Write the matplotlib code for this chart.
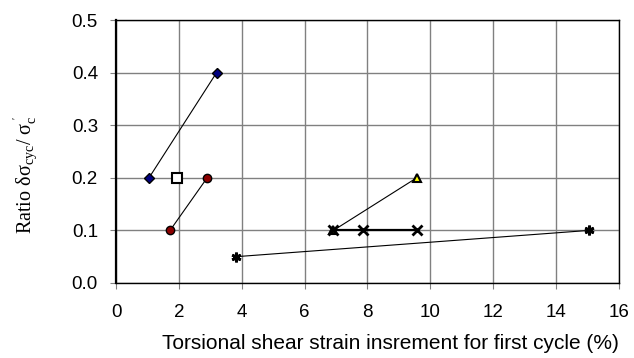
import matplotlib
matplotlib.use('Agg')
import matplotlib.pyplot as plt

plt.rcParams['font.family'] = 'Liberation Sans'
plt.rcParams['mathtext.fontset'] = 'custom'
plt.rcParams['mathtext.rm'] = 'Liberation Serif'
plt.rcParams['mathtext.it'] = 'Liberation Serif:italic'

# data
diamond_x = [1.05, 3.2]
diamond_y = [0.2, 0.4]
square_x = [1.93]
square_y = [0.2]
circle_x = [1.72, 2.9]
circle_y = [0.1, 0.2]
triangle_x = [6.92, 9.57]
triangle_y = [0.1, 0.2]
cross_x = [6.92, 7.85, 9.57]
cross_y = [0.1, 0.1, 0.1]
star_x = [3.81, 15.05]
star_y = [0.05, 0.1]

xticks = [0, 2, 4, 6, 8, 10, 12, 14, 16]
yticks = [0.0, 0.1, 0.2, 0.3, 0.4, 0.5]

fig = plt.figure(figsize=(6.34, 3.58), dpi=100)
ax = fig.add_axes([0.183, 0.2095, 0.793, 0.7345])

ax.plot(diamond_x, diamond_y, color='black', lw=0.8, marker='D', ms=5,
        mfc='#000080', mec='black', mew=1)
ax.plot(square_x, square_y, ls='none', marker='s', ms=7,
        mfc='white', mec='black', mew=1.5)
ax.plot(circle_x, circle_y, color='black', lw=0.8, marker='o', ms=6,
        mfc='#8b0000', mec='black', mew=1)
ax.plot(triangle_x, triangle_y, color='black', lw=0.8, marker='^', ms=6,
        mfc='yellow', mec='black', mew=1.5)
ax.plot(cross_x, cross_y, color='black', lw=1.6, marker='x', ms=7, mew=2)
ax.plot(star_x, star_y, color='black', lw=0.8, marker=(6, 2, 0), ms=7, mew=2)

ax.set_xlim(0, 16)
ax.set_ylim(0, 0.5)
ax.set_xticks(xticks)
ax.set_yticks(yticks)
ax.set_xticklabels([str(t) for t in xticks])
ax.set_yticklabels(['%.1f' % t for t in yticks])
ax.grid(True, color='#808080', lw=1)
ax.set_axisbelow(True)
ax.tick_params(direction='out', length=4, color='#808080', labelsize=13.5)
ax.tick_params(axis='x', pad=11)
ax.tick_params(axis='y', pad=9)

for s in ['top', 'right', 'bottom']:
    ax.spines[s].set_linewidth(1)
ax.spines['left'].set_linewidth(1.6)

ax.set_xlabel('Torsional shear strain insrement for first cycle (%)', fontsize=15)
ax.xaxis.set_label_coords(0.545, -0.195)
ax.set_ylabel(r"Ratio δσ$_{\mathrm{cyc}}$/ σ$_{\mathrm{c}}^{\ '}$", fontsize=14.5,
              family='Liberation Serif')
ax.yaxis.set_label_coords(-0.152, 0.41)

fig.savefig('out.png', dpi=100)
